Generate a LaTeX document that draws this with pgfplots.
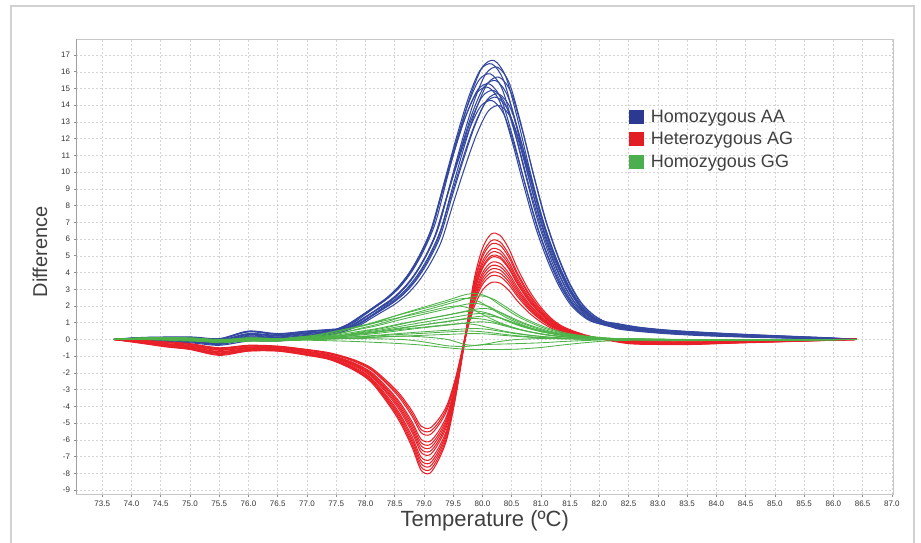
\documentclass[border=0pt]{standalone}
\usepackage{fontspec}
\setmainfont{Liberation Sans}
\usepackage{pgfplots}
\pgfplotsset{compat=1.18}

\definecolor{cAA}{RGB}{52,72,160}
\definecolor{cAG}{RGB}{232,32,40}
\definecolor{cGG}{RGB}{77,178,72}
\definecolor{sAA}{RGB}{43,57,144}
\definecolor{sAG}{RGB}{226,30,36}
\definecolor{sGG}{RGB}{75,174,79}
\definecolor{txt}{RGB}{64,64,64}

\begin{document}
\begin{tikzpicture}
\useasboundingbox (0pt,0pt) rectangle (921pt,543pt);
% outer frame, open at the bottom
\draw[line width=1.2pt, black!18] (11pt,-5pt) -- (11pt,537pt) -- (914pt,537pt) -- (914pt,-5pt);

\begin{axis}[
  at={(76.5pt,49pt)}, anchor=south west,
  scale only axis, width=816.5pt, height=455pt,
  xmin=73.06, xmax=87.02, ymin=-9.24, ymax=17.96,
  xtick={73.5,74,74.5,75,75.5,76,76.5,77,77.5,78,78.5,79,79.5,80,80.5,81,81.5,82,82.5,83,83.5,84,84.5,85,85.5,86,86.5,87},
  ytick={-9,-8,...,17},
  xticklabel style={/pgf/number format/.cd, fixed, fixed zerofill, precision=1},
  /pgf/number format/assume math mode=true,
  grid=major,
  major grid style={black!17, dash pattern=on 2pt off 2pt, line width=0.5pt},
  axis line style={black!22, line width=0.8pt},
  tick style={black!45, line width=0.6pt},
  tick align=outside, major tick length=3pt,
  xtick pos=bottom, ytick pos=left,
  tick label style={font=\fontsize{8}{9}\selectfont, text=black!80},
  xlabel={Temperature (ºC)}, ylabel={Difference},
  every axis x label/.style={at={(rel axis cs:0.5,0)}, anchor=center, yshift=-27pt,
    font=\fontsize{22}{24}\selectfont, text=txt},
  every axis y label/.style={at={(rel axis cs:0,0.532)}, xshift=-36.5pt, rotate=90, anchor=center,
    font=\fontsize{20}{22}\selectfont, text=txt},
  legend image code/.code={\fill[#1] (0pt,-7.2pt) rectangle (14.5pt,7.2pt);},
  legend style={at={(rel axis cs:0.677,0.847)}, anchor=north west, draw=none, fill=none,
    inner sep=0pt, font=\fontsize{18}{20}\selectfont, text=txt, row sep=6.5pt,
    nodes={inner sep=1pt}, cells={anchor=west},
    /tikz/every odd column/.style={column sep=6pt}},
  aa/.style={cAA, line width=1.05pt, smooth, tension=0.5},
  ag/.style={cAG, line width=1.05pt, smooth, tension=0.5},
  gg/.style={cGG, line width=0.85pt, smooth, tension=0.5},
]
\addlegendimage{fill=sAA, draw=none}\addlegendentry{Homozygous AA}
\addlegendimage{fill=sAG, draw=none}\addlegendentry{Heterozygous AG}
\addlegendimage{fill=sGG, draw=none}\addlegendentry{Homozygous GG}

% ---- Homozygous AA (blue)
\addplot[aa] coordinates {(73.7,0)(74.2,0.12)(75.0,0.15)(75.5,0.05)(76.0,0.5)(76.5,0.35)(77.0,0.5)(77.4,0.6)
 (77.6,0.67)(77.8,1.00)(78.0,1.50)(78.2,2.00)(78.4,2.51)(78.6,3.17)(78.8,4.09)(79.0,5.34)(79.2,7.01)(79.4,9.69)(79.6,12.27)(79.8,14.61)(80.0,16.28)(80.2,16.67)(80.4,15.70)(80.6,13.19)(80.8,10.27)(81.0,7.52)(81.2,5.34)(81.4,3.59)(81.6,2.34)(81.8,1.59)(82.0,1.14)
 (82.3,0.95)(82.7,0.72)(83.2,0.55)(83.8,0.42)(84.5,0.3)(85.2,0.2)(85.9,0.1)(86.4,0)};
\addplot[aa] coordinates {(73.7,0)(74.2,0.11)(75.0,0.12)(75.5,0.02)(76.0,0.48)(76.5,0.32)(77.0,0.48)(77.4,0.58)
 (77.56,0.66)(77.76,0.99)(77.96,1.49)(78.16,1.98)(78.36,2.48)(78.56,3.14)(78.76,4.04)(78.96,5.28)(79.16,6.93)(79.36,9.57)(79.56,12.13)(79.76,14.44)(79.96,16.09)(80.16,16.47)(80.36,15.51)(80.56,13.04)(80.76,10.15)(80.96,7.43)(81.16,5.28)(81.36,3.55)(81.56,2.31)(81.76,1.57)(81.96,1.12)
 (82.3,0.92)(82.7,0.7)(83.2,0.53)(83.8,0.41)(84.5,0.29)(85.2,0.19)(85.9,0.09)(86.4,0)};
\addplot[aa] coordinates {(73.7,0)(74.2,0.1)(75.0,0.1)(75.5,0.0)(76.0,0.45)(76.5,0.3)(77.0,0.45)(77.4,0.55)
 (77.66,0.65)(77.86,0.98)(78.06,1.47)(78.26,1.96)(78.46,2.45)(78.66,3.10)(78.86,3.99)(79.06,5.22)(79.26,6.85)(79.46,9.45)(79.66,11.98)(79.86,14.26)(80.06,15.89)(80.26,16.27)(80.46,15.32)(80.66,12.88)(80.86,10.02)(81.06,7.34)(81.26,5.22)(81.46,3.50)(81.66,2.28)(81.86,1.55)(82.06,1.11)
 (82.3,0.9)(82.7,0.68)(83.2,0.52)(83.8,0.4)(84.5,0.28)(85.2,0.18)(85.9,0.09)(86.4,0)};
\addplot[aa] coordinates {(73.7,0)(74.2,0.08)(75.0,0.05)(75.5,-0.05)(76.0,0.35)(76.5,0.25)(77.0,0.4)(77.4,0.5)
 (77.54,0.64)(77.74,0.95)(77.94,1.43)(78.14,1.91)(78.34,2.39)(78.54,3.02)(78.74,3.90)(78.94,5.09)(79.14,6.68)(79.34,9.22)(79.54,11.69)(79.74,13.91)(79.94,15.50)(80.14,15.87)(80.34,14.95)(80.54,12.56)(80.74,9.78)(80.94,7.16)(81.14,5.09)(81.34,3.42)(81.54,2.23)(81.74,1.51)(81.94,1.08)
 (82.3,0.85)(82.7,0.64)(83.2,0.48)(83.8,0.36)(84.5,0.25)(85.2,0.16)(85.9,0.08)(86.4,0)};
\addplot[aa] coordinates {(73.7,0)(74.2,0.07)(75.0,0.03)(75.5,-0.08)(76.0,0.33)(76.5,0.22)(77.0,0.38)(77.4,0.48)
 (77.69,0.63)(77.89,0.94)(78.09,1.41)(78.29,1.88)(78.49,2.36)(78.69,2.98)(78.89,3.85)(79.09,5.02)(79.29,6.59)(79.49,9.11)(79.69,11.54)(79.89,13.74)(80.09,15.31)(80.29,15.67)(80.49,14.76)(80.69,12.40)(80.89,9.66)(81.09,7.07)(81.29,5.02)(81.49,3.38)(81.69,2.20)(81.89,1.49)(82.09,1.07)
 (82.3,0.83)(82.7,0.62)(83.2,0.47)(83.8,0.35)(84.5,0.24)(85.2,0.15)(85.9,0.07)(86.4,0)};
\addplot[aa] coordinates {(73.7,0)(74.2,0.05)(75.0,0.0)(75.5,-0.1)(76.0,0.3)(76.5,0.2)(77.0,0.35)(77.4,0.45)
 (77.63,0.62)(77.83,0.93)(78.03,1.40)(78.23,1.86)(78.43,2.33)(78.63,2.95)(78.83,3.80)(79.03,4.96)(79.23,6.51)(79.43,8.99)(79.63,11.39)(79.83,13.56)(80.03,15.11)(80.23,15.47)(80.43,14.57)(80.63,12.25)(80.83,9.53)(81.03,6.98)(81.23,4.96)(81.43,3.33)(81.63,2.17)(81.83,1.47)(82.03,1.05)
 (82.3,0.8)(82.7,0.6)(83.2,0.45)(83.8,0.33)(84.5,0.22)(85.2,0.14)(85.9,0.07)(86.4,0)};
\addplot[aa] coordinates {(73.7,0)(74.2,0.03)(75.0,-0.03)(75.5,-0.15)(76.0,0.25)(76.5,0.15)(77.0,0.3)(77.4,0.42)
 (77.52,0.61)(77.72,0.92)(77.92,1.38)(78.12,1.84)(78.32,2.30)(78.52,2.91)(78.72,3.75)(78.92,4.90)(79.12,6.43)(79.32,8.87)(79.52,11.25)(79.72,13.39)(79.92,14.92)(80.12,15.27)(80.32,14.38)(80.52,12.09)(80.72,9.41)(80.92,6.89)(81.12,4.90)(81.32,3.29)(81.52,2.14)(81.72,1.45)(81.92,1.04)
 (82.3,0.78)(82.7,0.58)(83.2,0.43)(83.8,0.31)(84.5,0.21)(85.2,0.13)(85.9,0.06)(86.4,0)};
\addplot[aa] coordinates {(73.7,0)(74.2,0.02)(75.0,-0.05)(75.5,-0.2)(76.0,0.2)(76.5,0.1)(77.0,0.25)(77.4,0.4)
 (77.5,0.60)(77.7,0.91)(77.9,1.36)(78.1,1.81)(78.3,2.27)(78.5,2.87)(78.7,3.70)(78.9,4.83)(79.1,6.34)(79.3,8.76)(79.5,11.10)(79.7,13.21)(79.9,14.72)(80.1,15.07)(80.3,14.19)(80.5,11.93)(80.7,9.29)(80.9,6.80)(81.1,4.83)(81.3,3.25)(81.5,2.11)(81.7,1.43)(81.9,1.03)
 (82.3,0.76)(82.7,0.56)(83.2,0.42)(83.8,0.3)(84.5,0.2)(85.2,0.12)(85.9,0.06)(86.4,0)};
\addplot[aa] coordinates {(73.7,0)(74.2,0.01)(75.0,-0.08)(75.5,-0.22)(76.0,0.15)(76.5,0.08)(77.0,0.22)(77.4,0.38)
 (77.6,0.60)(77.8,0.89)(78.0,1.34)(78.2,1.79)(78.4,2.24)(78.6,2.83)(78.8,3.65)(79.0,4.77)(79.2,6.26)(79.4,8.64)(79.6,10.95)(79.8,13.04)(80.0,14.53)(80.2,14.87)(80.4,14.01)(80.6,11.77)(80.8,9.16)(81.0,6.71)(81.2,4.77)(81.4,3.20)(81.6,2.09)(81.8,1.42)(82.0,1.01)
 (82.3,0.74)(82.7,0.55)(83.2,0.4)(83.8,0.29)(84.5,0.19)(85.2,0.11)(85.9,0.05)(86.4,0)};
\addplot[aa] coordinates {(73.7,0)(74.2,0.0)(75.0,-0.1)(75.5,-0.25)(76.0,0.1)(76.5,0.05)(77.0,0.2)(77.4,0.35)
 (77.68,0.59)(77.88,0.88)(78.08,1.32)(78.28,1.76)(78.48,2.21)(78.68,2.79)(78.88,3.60)(79.08,4.70)(79.28,6.17)(79.48,8.53)(79.68,10.80)(79.88,12.86)(80.08,14.33)(80.28,14.67)(80.48,13.82)(80.68,11.61)(80.88,9.04)(81.08,6.62)(81.28,4.70)(81.48,3.16)(81.68,2.06)(81.88,1.40)(82.08,1.00)
 (82.3,0.72)(82.7,0.53)(83.2,0.39)(83.8,0.28)(84.5,0.18)(85.2,0.11)(85.9,0.05)(86.4,0)};
\addplot[aa] coordinates {(73.7,0)(74.2,-0.01)(75.0,-0.12)(75.5,-0.28)(76.0,0.05)(76.5,0.0)(77.0,0.18)(77.4,0.32)
 (77.65,0.58)(77.85,0.87)(78.05,1.31)(78.25,1.74)(78.45,2.18)(78.65,2.76)(78.85,3.55)(79.05,4.64)(79.25,6.09)(79.45,8.41)(79.65,10.66)(79.85,12.69)(80.05,14.14)(80.25,14.47)(80.45,13.63)(80.65,11.46)(80.85,8.92)(81.05,6.53)(81.25,4.64)(81.45,3.12)(81.65,2.03)(81.85,1.38)(82.05,0.99)
 (82.3,0.7)(82.7,0.51)(83.2,0.37)(83.8,0.26)(84.5,0.17)(85.2,0.1)(85.9,0.04)(86.4,0)};
\addplot[aa] coordinates {(73.7,0)(74.2,-0.02)(75.0,-0.15)(75.5,-0.3)(76.0,0.0)(76.5,-0.05)(77.0,0.15)(77.4,0.3)
 (77.57,0.57)(77.77,0.86)(77.97,1.29)(78.17,1.72)(78.37,2.15)(78.57,2.72)(78.77,3.50)(78.97,4.58)(79.17,6.01)(79.37,8.29)(79.57,10.51)(79.77,12.51)(79.97,13.94)(80.17,14.27)(80.37,13.44)(80.57,11.30)(80.77,8.79)(80.97,6.44)(81.17,4.58)(81.37,3.07)(81.57,2.00)(81.77,1.36)(81.97,0.97)
 (82.3,0.68)(82.7,0.5)(83.2,0.36)(83.8,0.25)(84.5,0.16)(85.2,0.1)(85.9,0.04)(86.4,0)};
\addplot[aa] coordinates {(73.7,0)(74.2,-0.05)(75.0,-0.2)(75.5,-0.35)(76.0,-0.1)(76.5,-0.1)(77.0,0.1)(77.4,0.25)
 (77.7,0.56)(77.9,0.84)(78.1,1.26)(78.3,1.68)(78.5,2.10)(78.7,2.66)(78.9,3.43)(79.1,4.48)(79.3,5.88)(79.5,8.12)(79.7,10.29)(79.9,12.25)(80.1,13.65)(80.3,13.97)(80.5,13.16)(80.7,11.06)(80.9,8.61)(81.1,6.30)(81.3,4.48)(81.5,3.01)(81.7,1.96)(81.9,1.33)(82.1,0.95)
 (82.3,0.64)(82.7,0.47)(83.2,0.33)(83.8,0.22)(84.5,0.14)(85.2,0.08)(85.9,0.03)(86.4,0)};

% ---- Heterozygous AG (red)
\addplot[ag] coordinates {(73.7,0)(74.2,-0.25)(74.6,-0.45)(75.0,-0.6)(75.5,-0.95)(76.0,-0.7)(76.5,-0.7)(77.0,-0.95)(77.4,-1.22)(77.8,-1.83)(78.1,-2.56)(78.4,-3.91)(78.6,-5.01)(78.8,-6.47)(78.95,-7.81)(79.1,-8.0)(79.25,-7.2)(79.4,-5.86)(79.55,-3.30)(79.7,-0.1)(79.85,2.85)(80.0,4.49)(80.15,5.20)(80.3,5.15)(80.45,4.49)(80.6,3.50)(80.8,2.41)(81.0,1.59)(81.2,0.99)(81.4,0.60)(81.7,0.27)(82.0,0.05)(82.5,-0.25)(83.0,-0.3)(83.6,-0.3)(84.3,-0.22)(85.0,-0.15)(85.7,-0.08)(86.4,0)};
\addplot[ag] coordinates {(73.7,0)(74.2,-0.22)(74.6,-0.42)(75.0,-0.58)(75.5,-0.9)(76.0,-0.68)(76.5,-0.68)(77.0,-0.92)(77.4,-1.19)(77.8,-1.79)(78.1,-2.50)(78.4,-3.81)(78.6,-4.88)(78.8,-6.31)(78.95,-7.62)(79.1,-7.8)(79.25,-7.03)(79.4,-5.72)(79.55,-3.22)(79.7,-0.05)(79.85,2.41)(80.0,3.80)(80.15,4.40)(80.3,4.35)(80.45,3.80)(80.6,2.96)(80.8,2.04)(81.0,1.34)(81.2,0.83)(81.4,0.51)(81.7,0.23)(82.0,0.05)(82.5,-0.22)(83.0,-0.28)(83.6,-0.27)(84.3,-0.2)(85.0,-0.13)(85.7,-0.07)(86.4,0)};
\addplot[ag] coordinates {(73.7,0)(74.2,-0.2)(74.6,-0.4)(75.0,-0.55)(75.5,-0.85)(76.0,-0.65)(76.5,-0.65)(77.0,-0.9)(77.4,-1.16)(77.8,-1.74)(78.1,-2.44)(78.4,-3.71)(78.6,-4.76)(78.8,-6.15)(78.95,-7.42)(79.1,-7.6)(79.25,-6.84)(79.4,-5.57)(79.55,-3.13)(79.7,0.05)(79.85,3.45)(80.0,5.44)(80.15,6.30)(80.3,6.23)(80.45,5.44)(80.6,4.24)(80.8,2.92)(81.0,1.92)(81.2,1.19)(81.4,0.73)(81.7,0.33)(82.0,0.07)(82.5,-0.2)(83.0,-0.28)(83.6,-0.28)(84.3,-0.2)(85.0,-0.14)(85.7,-0.07)(86.4,0)};
\addplot[ag] coordinates {(73.7,0)(74.2,-0.18)(74.6,-0.38)(75.0,-0.52)(75.5,-0.82)(76.0,-0.62)(76.5,-0.62)(77.0,-0.88)(77.4,-1.13)(77.8,-1.70)(78.1,-2.37)(78.4,-3.62)(78.6,-4.63)(78.8,-5.99)(78.95,-7.23)(79.1,-7.4)(79.25,-6.67)(79.4,-5.42)(79.55,-3.05)(79.7,0.0)(79.85,2.96)(80.0,4.66)(80.15,5.40)(80.3,5.34)(80.45,4.66)(80.6,3.64)(80.8,2.50)(81.0,1.65)(81.2,1.02)(81.4,0.63)(81.7,0.28)(82.0,0.06)(82.5,-0.19)(83.0,-0.26)(83.6,-0.26)(84.3,-0.19)(85.0,-0.13)(85.7,-0.06)(86.4,0)};
\addplot[ag] coordinates {(73.7,0)(74.2,-0.2)(74.6,-0.35)(75.0,-0.5)(75.5,-0.8)(76.0,-0.6)(76.5,-0.6)(77.0,-0.85)(77.4,-1.10)(77.8,-1.65)(78.1,-2.31)(78.4,-3.52)(78.6,-4.51)(78.8,-5.82)(78.95,-7.03)(79.1,-7.2)(79.25,-6.48)(79.4,-5.28)(79.55,-2.97)(79.7,-0.05)(79.85,2.19)(80.0,3.45)(80.15,4.00)(80.3,3.96)(80.45,3.45)(80.6,2.69)(80.8,1.85)(81.0,1.22)(81.2,0.76)(81.4,0.46)(81.7,0.21)(82.0,0.04)(82.5,-0.18)(83.0,-0.25)(83.6,-0.25)(84.3,-0.18)(85.0,-0.12)(85.7,-0.06)(86.4,0)};
\addplot[ag] coordinates {(73.7,0)(74.2,-0.15)(74.6,-0.3)(75.0,-0.45)(75.5,-0.75)(76.0,-0.55)(76.5,-0.55)(77.0,-0.8)(77.4,-1.05)(77.8,-1.58)(78.1,-2.21)(78.4,-3.37)(78.6,-4.32)(78.8,-5.58)(78.95,-6.74)(79.1,-6.9)(79.25,-6.21)(79.4,-5.06)(79.55,-2.84)(79.7,0.05)(79.85,3.12)(80.0,4.92)(80.15,5.70)(80.3,5.64)(80.45,4.92)(80.6,3.84)(80.8,2.64)(81.0,1.74)(81.2,1.08)(81.4,0.66)(81.7,0.30)(82.0,0.06)(82.5,-0.15)(83.0,-0.22)(83.6,-0.22)(84.3,-0.16)(85.0,-0.1)(85.7,-0.05)(86.4,0)};
\addplot[ag] coordinates {(73.7,0)(74.2,-0.16)(74.6,-0.32)(75.0,-0.44)(75.5,-0.72)(76.0,-0.54)(76.5,-0.52)(77.0,-0.78)(77.4,-1.02)(77.8,-1.53)(78.1,-2.15)(78.4,-3.27)(78.6,-4.19)(78.8,-5.42)(78.95,-6.55)(79.1,-6.7)(79.25,-6.04)(79.4,-4.91)(79.55,-2.76)(79.7,-0.02)(79.85,2.30)(80.0,3.62)(80.15,4.20)(80.3,4.16)(80.45,3.62)(80.6,2.83)(80.8,1.94)(81.0,1.28)(81.2,0.80)(81.4,0.49)(81.7,0.22)(82.0,0.04)(82.5,-0.14)(83.0,-0.2)(83.6,-0.2)(84.3,-0.14)(85.0,-0.09)(85.7,-0.04)(86.4,0)};
\addplot[ag] coordinates {(73.7,0)(74.2,-0.15)(74.6,-0.3)(75.0,-0.4)(75.5,-0.65)(76.0,-0.5)(76.5,-0.5)(77.0,-0.75)(77.4,-0.99)(77.8,-1.49)(78.1,-2.08)(78.4,-3.17)(78.6,-4.07)(78.8,-5.26)(78.95,-6.35)(79.1,-6.5)(79.25,-5.85)(79.4,-4.76)(79.55,-2.68)(79.7,-0.05)(79.85,1.86)(80.0,2.94)(80.15,3.40)(80.3,3.37)(80.45,2.94)(80.6,2.29)(80.8,1.58)(81.0,1.04)(81.2,0.64)(81.4,0.39)(81.7,0.18)(82.0,0.04)(82.5,-0.12)(83.0,-0.18)(83.6,-0.18)(84.3,-0.13)(85.0,-0.08)(85.7,-0.04)(86.4,0)};
\addplot[ag] coordinates {(73.7,0)(74.2,-0.12)(74.6,-0.28)(75.0,-0.38)(75.5,-0.62)(76.0,-0.48)(76.5,-0.47)(77.0,-0.72)(77.4,-0.96)(77.8,-1.44)(78.1,-2.02)(78.4,-3.08)(78.6,-3.94)(78.8,-5.10)(78.95,-6.16)(79.1,-6.3)(79.25,-5.68)(79.4,-4.62)(79.55,-2.60)(79.7,0.08)(79.85,3.23)(80.0,5.09)(80.15,5.90)(80.3,5.84)(80.45,5.09)(80.6,3.97)(80.8,2.73)(81.0,1.80)(81.2,1.12)(81.4,0.68)(81.7,0.31)(82.0,0.06)(82.5,-0.11)(83.0,-0.17)(83.6,-0.17)(84.3,-0.12)(85.0,-0.07)(85.7,-0.03)(86.4,0)};
\addplot[ag] coordinates {(73.7,0)(74.2,-0.1)(74.6,-0.25)(75.0,-0.35)(75.5,-0.6)(76.0,-0.45)(76.5,-0.45)(77.0,-0.7)(77.4,-0.93)(77.8,-1.40)(78.1,-1.96)(78.4,-2.98)(78.6,-3.82)(78.8,-4.94)(78.95,-5.96)(79.1,-6.1)(79.25,-5.49)(79.4,-4.47)(79.55,-2.51)(79.7,0.0)(79.85,2.52)(80.0,3.97)(80.15,4.60)(80.3,4.55)(80.45,3.97)(80.6,3.10)(80.8,2.13)(81.0,1.40)(81.2,0.87)(81.4,0.53)(81.7,0.24)(82.0,0.05)(82.5,-0.1)(83.0,-0.15)(83.6,-0.15)(84.3,-0.1)(85.0,-0.06)(85.7,-0.03)(86.4,0)};
\addplot[ag] coordinates {(73.7,0)(74.2,-0.1)(74.6,-0.2)(75.0,-0.3)(75.5,-0.55)(76.0,-0.4)(76.5,-0.45)(77.0,-0.65)(77.4,-0.87)(77.8,-1.31)(78.1,-1.83)(78.4,-2.78)(78.6,-3.57)(78.8,-4.61)(78.95,-5.57)(79.1,-5.7)(79.25,-5.13)(79.4,-4.18)(79.55,-2.35)(79.7,0.05)(79.85,2.74)(80.0,4.32)(80.15,5.00)(80.3,4.95)(80.45,4.32)(80.6,3.37)(80.8,2.32)(81.0,1.53)(81.2,0.95)(81.4,0.58)(81.7,0.26)(82.0,0.05)(82.5,-0.06)(83.0,-0.1)(83.6,-0.1)(84.3,-0.07)(85.0,-0.04)(85.7,-0.02)(86.4,0)};
\addplot[ag] coordinates {(73.7,0)(74.2,-0.08)(74.6,-0.18)(75.0,-0.28)(75.5,-0.52)(76.0,-0.38)(76.5,-0.42)(77.0,-0.62)(77.4,-0.84)(77.8,-1.26)(78.1,-1.76)(78.4,-2.69)(78.6,-3.44)(78.8,-4.45)(78.95,-5.38)(79.1,-5.5)(79.25,-4.96)(79.4,-4.03)(79.55,-2.27)(79.7,0.08)(79.85,2.68)(80.0,4.23)(80.15,4.90)(80.3,4.85)(80.45,4.23)(80.6,3.30)(80.8,2.27)(81.0,1.50)(81.2,0.93)(81.4,0.57)(81.7,0.26)(82.0,0.05)(82.5,-0.05)(83.0,-0.08)(83.6,-0.08)(84.3,-0.05)(85.0,-0.03)(85.7,-0.01)(86.4,0)};
\addplot[ag] coordinates {(73.7,0)(74.2,-0.05)(74.6,-0.15)(75.0,-0.25)(75.5,-0.5)(76.0,-0.35)(76.5,-0.4)(77.0,-0.6)(77.4,-0.81)(77.8,-1.21)(78.1,-1.70)(78.4,-2.59)(78.6,-3.32)(78.8,-4.29)(78.95,-5.18)(79.1,-5.3)(79.25,-4.77)(79.4,-3.88)(79.55,-2.18)(79.7,0.1)(79.85,2.08)(80.0,3.28)(80.15,3.80)(80.3,3.76)(80.45,3.28)(80.6,2.56)(80.8,1.76)(81.0,1.16)(81.2,0.72)(81.4,0.44)(81.7,0.20)(82.0,0.04)(82.5,-0.03)(83.0,-0.06)(83.6,-0.06)(84.3,-0.04)(85.0,-0.02)(85.7,-0.01)(86.4,0)};

% ---- Homozygous GG (green)
\addplot[gg] coordinates {(73.7,0)(74.2,0.1)(75.0,0.1)(75.5,-0.05)(76.0,0.1)(76.5,0.05)(77.0,0.14)(77.4,0.33)(77.8,0.69)(78.2,1.05)(78.6,1.51)(79.0,1.93)(79.4,2.34)(79.7,2.67)(79.9,2.75)(80.1,2.53)(80.3,2.06)(80.6,1.38)(81.0,0.74)(81.4,0.36)(81.8,0.17)(82.2,0.06)(82.8,0.02)(83.5,-0.02)(84.5,-0.04)(85.5,-0.02)(86.4,0)};
\addplot[gg] coordinates {(73.7,0)(74.2,0.09)(75.0,0.06)(75.5,-0.08)(76.0,0.07)(76.5,0.03)(77.1,0.13)(77.5,0.31)(77.9,0.65)(78.3,0.99)(78.7,1.43)(79.1,1.82)(79.5,2.21)(79.8,2.52)(80.0,2.6)(80.2,2.39)(80.4,1.95)(80.7,1.30)(81.1,0.70)(81.5,0.34)(81.9,0.16)(82.3,0.05)(82.8,0.01)(83.5,-0.03)(84.5,-0.04)(85.5,-0.02)(86.4,0)};
\addplot[gg] coordinates {(73.7,0)(74.2,0.08)(75.0,0.05)(75.5,-0.1)(76.0,0.05)(76.5,0.0)(76.85,0.12)(77.25,0.29)(77.65,0.61)(78.05,0.93)(78.45,1.35)(78.85,1.72)(79.25,2.08)(79.55,2.38)(79.75,2.45)(79.95,2.25)(80.15,1.84)(80.45,1.23)(80.85,0.66)(81.25,0.32)(81.65,0.15)(82.05,0.05)(82.8,0.0)(83.5,-0.03)(84.5,-0.05)(85.5,-0.03)(86.4,0)};
\addplot[gg] coordinates {(73.7,0)(74.2,0.06)(75.0,0.0)(75.5,-0.15)(76.0,0.0)(76.5,-0.05)(77.0,0.11)(77.4,0.26)(77.8,0.54)(78.2,0.82)(78.6,1.18)(79.0,1.51)(79.4,1.83)(79.7,2.09)(79.9,2.15)(80.1,1.98)(80.3,1.61)(80.6,1.08)(81.0,0.58)(81.4,0.28)(81.8,0.13)(82.2,0.04)(82.8,-0.02)(83.5,-0.05)(84.5,-0.06)(85.5,-0.03)(86.4,0)};
\addplot[gg] coordinates {(73.7,0)(74.2,0.04)(75.0,0.02)(75.5,-0.12)(76.0,0.02)(76.5,-0.02)(76.7,0.10)(77.1,0.24)(77.5,0.50)(77.9,0.76)(78.3,1.10)(78.7,1.40)(79.1,1.70)(79.4,1.94)(79.6,2.0)(79.8,1.84)(80.0,1.50)(80.3,1.00)(80.7,0.54)(81.1,0.26)(81.5,0.12)(81.9,0.04)(82.8,-0.01)(83.5,-0.04)(84.5,-0.05)(85.5,-0.02)(86.4,0)};
\addplot[gg] coordinates {(73.7,0)(74.2,0.04)(75.0,0.05)(75.5,-0.05)(76.0,-0.05)(76.5,0.0)(77.15,0.09)(77.55,0.22)(77.95,0.46)(78.35,0.70)(78.75,1.02)(79.15,1.30)(79.55,1.57)(79.85,1.79)(80.05,1.85)(80.25,1.70)(80.45,1.39)(80.75,0.93)(81.15,0.50)(81.55,0.24)(81.95,0.11)(82.35,0.04)(82.8,0.03)(83.5,0.0)(84.5,-0.02)(85.5,-0.01)(86.4,0)};
\addplot[gg] coordinates {(73.7,0)(74.2,0.05)(75.0,0.03)(75.5,-0.06)(76.0,0.04)(76.5,0.02)(77.0,0.09)(77.4,0.20)(77.8,0.43)(78.2,0.65)(78.6,0.94)(79.0,1.19)(79.4,1.45)(79.7,1.65)(79.9,1.70)(80.1,1.56)(80.3,1.28)(80.6,0.85)(81.0,0.46)(81.4,0.22)(81.8,0.10)(82.2,0.03)(82.8,0.0)(83.5,-0.02)(84.5,-0.03)(85.5,-0.02)(86.4,0)};
\addplot[gg] coordinates {(73.7,0)(74.2,0.02)(75.0,-0.05)(75.5,-0.2)(76.0,-0.1)(76.5,-0.1)(77.1,0.08)(77.5,0.19)(77.9,0.39)(78.3,0.59)(78.7,0.85)(79.1,1.09)(79.5,1.32)(79.8,1.50)(80.0,1.55)(80.2,1.43)(80.4,1.16)(80.7,0.78)(81.1,0.42)(81.5,0.20)(81.9,0.09)(82.3,0.03)(82.8,-0.01)(83.5,-0.04)(84.5,-0.04)(85.5,-0.02)(86.4,0)};
\addplot[gg] coordinates {(73.7,0)(74.2,0.03)(75.0,0.06)(75.5,-0.03)(76.0,0.05)(76.5,0.03)(77.2,0.07)(77.6,0.17)(78.0,0.35)(78.4,0.53)(78.8,0.77)(79.2,0.98)(79.6,1.19)(79.9,1.36)(80.1,1.40)(80.3,1.29)(80.5,1.05)(80.8,0.70)(81.2,0.38)(81.6,0.18)(82.0,0.08)(82.4,0.03)(82.8,0.02)(83.5,-0.01)(84.5,-0.02)(85.5,-0.01)(86.4,0)};
\addplot[gg] coordinates {(73.7,0)(74.2,0.05)(75.0,0.08)(75.5,0.0)(76.0,0.08)(76.5,0.05)(77.0,0.06)(77.4,0.15)(77.8,0.31)(78.2,0.48)(78.6,0.69)(79.0,0.88)(79.4,1.06)(79.7,1.21)(79.9,1.25)(80.1,1.15)(80.3,0.94)(80.6,0.63)(81.0,0.34)(81.4,0.16)(81.8,0.08)(82.2,0.03)(82.8,0.01)(83.5,-0.01)(84.5,-0.03)(85.5,-0.02)(86.4,0)};
\addplot[gg] coordinates {(73.7,0)(74.2,0.01)(75.0,-0.04)(75.5,-0.14)(76.0,-0.06)(76.5,-0.06)(77.1,0.05)(77.5,0.13)(77.9,0.26)(78.3,0.40)(78.7,0.58)(79.1,0.74)(79.5,0.89)(79.8,1.02)(80.0,1.05)(80.2,0.97)(80.4,0.79)(80.7,0.53)(81.1,0.28)(81.5,0.14)(81.9,0.06)(82.3,0.02)(82.8,-0.02)(83.5,-0.04)(84.5,-0.04)(85.5,-0.02)(86.4,0)};
\addplot[gg] coordinates {(73.7,0)(74.2,0.0)(75.0,-0.1)(75.5,-0.15)(76.0,-0.05)(76.5,-0.1)(76.8,0.05)(77.2,0.11)(77.6,0.24)(78.0,0.36)(78.4,0.52)(78.8,0.67)(79.2,0.81)(79.5,0.92)(79.7,0.95)(79.9,0.87)(80.1,0.71)(80.4,0.48)(80.8,0.26)(81.2,0.12)(81.6,0.06)(82.0,0.02)(82.8,-0.03)(83.5,-0.06)(84.5,-0.05)(85.5,-0.03)(86.4,0)};
\addplot[gg] coordinates {(73.7,0)(74.2,0.03)(75.0,0.0)(75.5,-0.1)(76.0,-0.1)(76.5,-0.05)(77.0,0.03)(77.4,0.08)(77.8,0.16)(78.2,0.25)(78.6,0.36)(79.0,0.46)(79.4,0.55)(79.7,0.63)(79.9,0.65)(80.1,0.60)(80.3,0.49)(80.6,0.33)(81.0,0.18)(81.4,0.08)(81.8,0.04)(82.2,0.01)(82.8,0.0)(83.5,-0.02)(84.5,-0.03)(85.5,-0.02)(86.4,0)};
\addplot[gg] coordinates {(73.7,0)(74.2,0.06)(75.0,0.04)(75.5,-0.04)(76.0,0.02)(76.5,0.01)(76.9,0.03)(77.3,0.06)(77.7,0.13)(78.1,0.19)(78.5,0.28)(78.9,0.35)(79.3,0.43)(79.6,0.49)(79.8,0.5)(80.0,0.46)(80.2,0.38)(80.5,0.25)(80.9,0.14)(81.3,0.07)(81.7,0.03)(82.1,0.01)(82.8,-0.01)(83.5,-0.02)(84.5,-0.02)(85.5,-0.01)(86.4,0)};
\addplot[gg] coordinates {(73.7,0)(74.2,0.05)(75.0,0.02)(75.5,-0.08)(76.0,0.0)(76.5,0.0)(77.0,0.02)(77.4,0.04)(77.8,0.09)(78.2,0.13)(78.6,0.19)(79.0,0.25)(79.4,0.30)(79.7,0.34)(79.9,0.35)(80.1,0.32)(80.3,0.26)(80.6,0.18)(81.0,0.09)(81.4,0.05)(81.8,0.02)(82.2,0.01)(82.8,0.0)(83.5,-0.01)(84.5,-0.02)(85.5,-0.01)(86.4,0)};
\addplot[gg] coordinates {(73.7,0)(74.2,0.04)(75.0,0.0)(75.5,-0.06)(76.0,0.02)(76.5,0.0)(77.0,0.0)(77.8,0.05)(78.6,0.0)(79.0,-0.15)(79.4,-0.38)(79.7,-0.42)(79.9,-0.35)(80.1,-0.3)(80.3,-0.28)(80.6,-0.25)(81.0,-0.2)(81.4,-0.12)(81.8,-0.06)(82.2,-0.02)(82.8,-0.02)(83.5,-0.03)(84.5,-0.02)(85.5,-0.01)(86.4,0)};
\addplot[gg] coordinates {(73.7,0)(74.2,0.0)(75.0,-0.05)(75.5,-0.12)(76.0,-0.08)(76.5,-0.08)(77.0,-0.05)(77.4,-0.08)(77.8,-0.12)(78.2,-0.18)(78.6,-0.25)(79.0,-0.35)(79.4,-0.5)(79.7,-0.58)(79.9,-0.6)(80.1,-0.6)(80.3,-0.6)(80.6,-0.58)(81.0,-0.48)(81.4,-0.32)(81.8,-0.18)(82.2,-0.08)(82.8,-0.04)(83.5,-0.03)(84.5,-0.02)(85.5,-0.01)(86.4,0)};
\addplot[gg] coordinates {(73.7,0)(74.2,0.07)(75.0,0.03)(75.5,-0.02)(76.0,0.03)(76.5,0.02)(77.0,-0.02)(77.4,0.02)(77.8,0.08)(78.2,0.15)(78.6,0.2)(79.0,0.15)(79.4,0.0)(79.7,-0.3)(79.9,-0.35)(80.1,-0.25)(80.3,-0.12)(80.6,0.0)(81.0,0.05)(81.4,0.03)(81.8,0.01)(82.2,0.0)(82.8,-0.01)(83.5,-0.02)(84.5,-0.02)(85.5,-0.01)(86.4,0)};

% darker left and bottom axis lines
\draw[black!45, line width=0.8pt] (rel axis cs:0,1) -- (rel axis cs:0,0) -- (rel axis cs:1,0);
\end{axis}
\end{tikzpicture}
\end{document}
